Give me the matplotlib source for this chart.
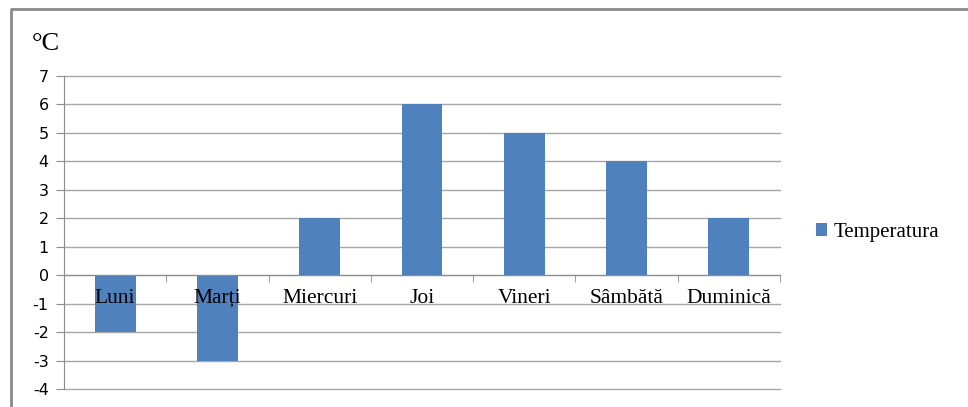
import matplotlib
matplotlib.use("Agg")
import matplotlib.pyplot as plt
from matplotlib.lines import Line2D
import numpy as np

# date
zile = ["Luni", "Marți", "Miercuri", "Joi", "Vineri", "Sâmbătă", "Duminică"]
temperatura = [-2, -3, 2, 6, 5, 4, 2]
y_ticks = [-4, -3, -2, -1, 0, 1, 2, 3, 4, 5, 6, 7]

W, H = 968, 407
fig = plt.figure(figsize=(W / 100, H / 100), dpi=100)
ax = fig.add_axes([64 / W, 1 - 389 / H, (780 - 64) / W, (389 - 76) / H])

x = np.arange(len(zile))
ax.bar(x, temperatura, width=0.4, color="#4F81BD", label="Temperatura", zorder=1)

ax.set_xlim(-0.5, len(zile) - 0.5)
ax.set_ylim(-4, 7)

# linii de grila in spatele barelor
for v in y_ticks:
    ax.axhline(v, color="#a6a6a6", lw=1, zorder=0.5, clip_on=False)

ax.spines["top"].set_visible(False)
ax.spines["right"].set_visible(False)
ax.spines["bottom"].set_position(("data", 0))
ax.spines["bottom"].set_color("#8c8c8c")
ax.spines["left"].set_color("#8c8c8c")

ax.set_yticks(y_ticks)
ax.set_yticklabels([str(v) for v in y_ticks], fontsize=11.5, family="DejaVu Sans")
ax.tick_params(axis="y", length=6, color="#8c8c8c", pad=5)

ax.set_xticks(x)
ax.set_xticklabels(zile, fontsize=15.5, family="Liberation Serif")
ax.set_xticks(np.arange(len(zile) + 1) - 0.5, minor=True)
ax.tick_params(axis="x", which="major", length=0, pad=10)
ax.tick_params(axis="x", which="minor", length=5, color="#8c8c8c")

fig.text(32 / W, 1 - 50 / H, "°C", fontsize=19, family="Liberation Serif")

ax.legend(loc="center left", bbox_to_anchor=(1.05, 0.5), frameon=False,
          prop={"family": "Liberation Serif", "size": 15},
          handlelength=0.55, handleheight=0.55, handletextpad=0.3,
          borderaxespad=0, borderpad=0)

# chenarul exterior
fig.add_artist(Line2D([11 / W, 11 / W, 1.0], [0, 1 - 8.5 / H, 1 - 8.5 / H],
                      transform=fig.transFigure, color="#8a8a8a", lw=2))

fig.savefig("out.png", dpi=100)
